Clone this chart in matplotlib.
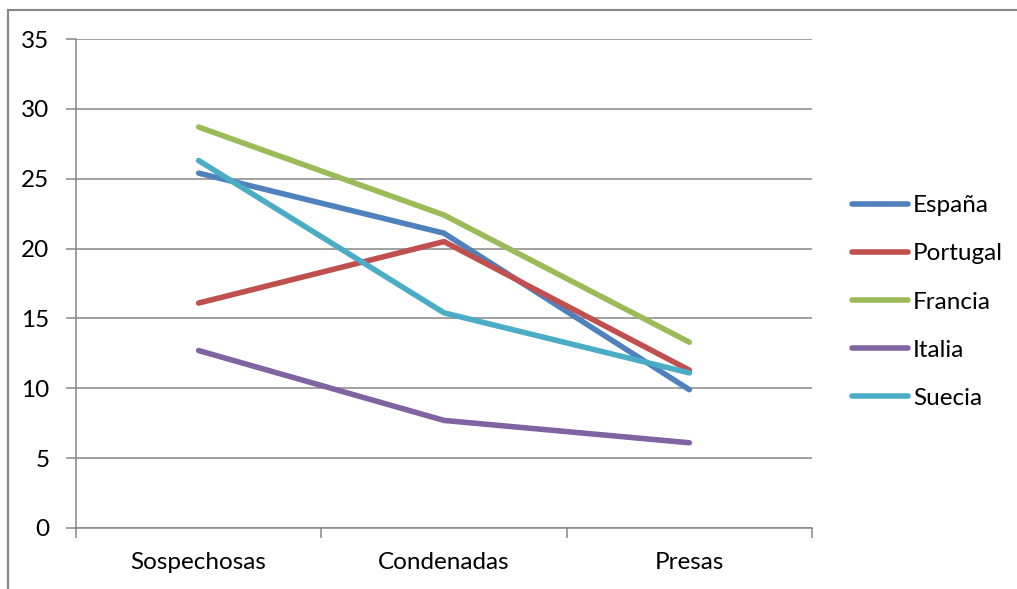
import numpy as np
import matplotlib
matplotlib.use('Agg')
from matplotlib import pyplot as plt
from matplotlib.lines import Line2D

categorias = ['Sospechosas', 'Condenadas', 'Presas']
paises = ['España', 'Portugal', 'Francia', 'Italia', 'Suecia']
espana = [25.4, 21.1, 9.9]
portugal = [16.1, 20.5, 11.3]
francia = [28.7, 22.4, 13.3]
italia = [12.7, 7.7, 6.1]
suecia = [26.3, 15.4, 11.1]
colores = ['#4F81BD', '#C0504D', '#9BBB59', '#8064A2', '#4BACC6']

plt.rcParams['font.family'] = ['Lato', 'DejaVu Sans']
W, H = 1017, 589
fig = plt.figure(figsize=(W/100, H/100), dpi=100)
ax = fig.add_axes([76/W, 1-528/H, (812-76)/W, (528-39)/H])

x = np.arange(len(categorias))
for serie, nombre, c in zip([espana, portugal, francia, italia, suecia], paises, colores):
    ax.plot(x, serie, color=c, lw=4, solid_capstyle='round', solid_joinstyle='round', label=nombre, zorder=3)

gris = '#868686'
fs = 17.5
ax.set_xlim(-0.5, 2.5)
ax.set_ylim(0, 35)
ax.set_yticks(range(0, 36, 5))
ax.yaxis.grid(True, color=gris, lw=1.1)
ax.set_axisbelow(True)
ax.set_xticks(x)
ax.set_xticklabels(categorias)
ax.set_xticks([-0.5, 0.5, 1.5, 2.5], minor=True)
ax.tick_params(axis='x', which='major', length=0, pad=17, labelsize=fs)
ax.tick_params(axis='x', which='minor', length=7, width=1.1, color=gris)
ax.tick_params(axis='y', length=7, width=1.1, color=gris, pad=12, labelsize=fs)
for s in ['top', 'right']:
    ax.spines[s].set_visible(False)
for s in ['left', 'bottom']:
    ax.spines[s].set_color(gris)
    ax.spines[s].set_linewidth(1.1)

ax.legend(loc='center left', bbox_to_anchor=(852/W, 1-302/H), bbox_transform=fig.transFigure,
          frameon=False, fontsize=fs, handlelength=2.3, handletextpad=0.2,
          labelspacing=1.12, borderpad=0, borderaxespad=0)

# marco exterior del gráfico
fig.add_artist(Line2D([8/W, 8/W], [0, 1-9.5/H], color=gris, lw=1.5, transform=fig.transFigure))
fig.add_artist(Line2D([8/W, 1], [1-9.5/H, 1-9.5/H], color=gris, lw=1.5, transform=fig.transFigure))

fig.savefig('out.png', dpi=100)
